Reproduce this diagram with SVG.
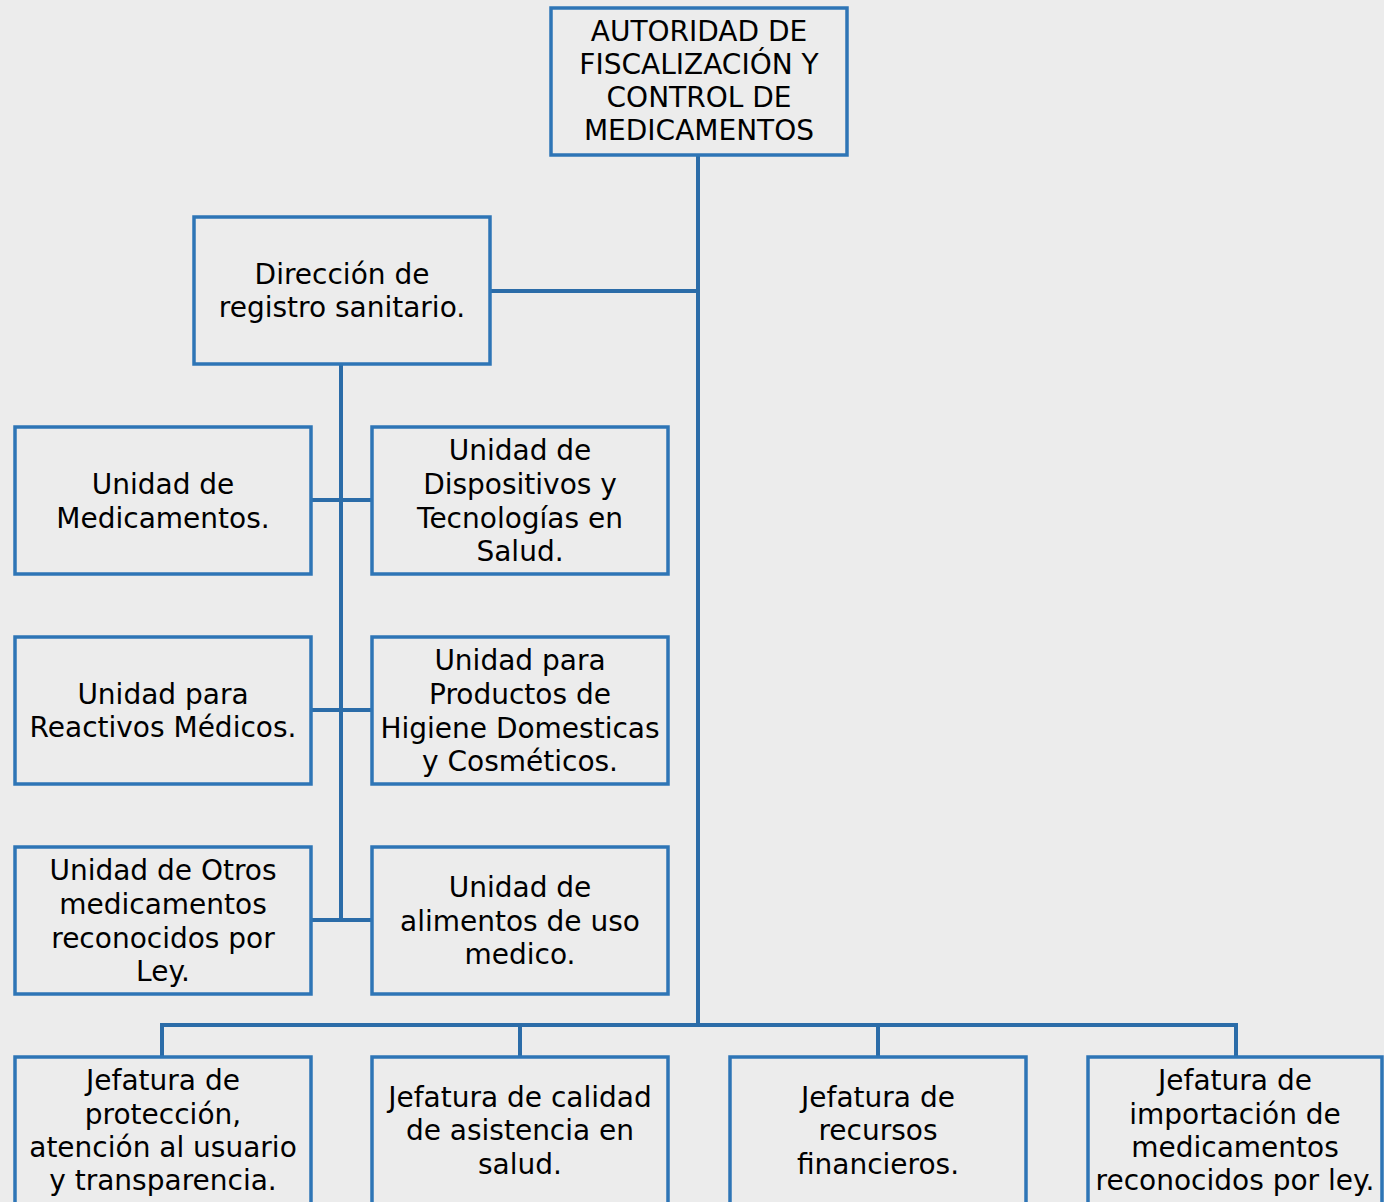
<svg xmlns="http://www.w3.org/2000/svg" width="1384" height="1202" viewBox="0 0 1384 1202">
<style>
.box{fill:#ececec;stroke:#2e75b6;stroke-width:3.5}
.t{font-family:"DejaVu Sans",sans-serif;font-size:28px;fill:#000;text-anchor:middle}
.c{fill:none;stroke:#2b6ca8;stroke-width:4}
</style>
<rect width="1384" height="1202" fill="#ececec"/>
<g id="connectors">
<path class="c" d="M698 155V1025"/>
<path class="c" d="M490 291H698"/>
<path class="c" d="M341 364V920"/>
<path class="c" d="M311 500H372M311 710H372M311 920H372"/>
<path class="c" d="M162 1057V1025H1236V1057M520 1025V1057M878 1025V1057"/>
</g>
<g id="n_autoridad"><rect class="box" x="551" y="8" width="296" height="147"/>
<text class="t" x="699"><tspan x="699" y="41">AUTORIDAD DE</tspan><tspan x="699" y="74">FISCALIZACIÓN Y</tspan><tspan x="699" y="107">CONTROL DE</tspan><tspan x="699" y="140">MEDICAMENTOS</tspan></text></g>
<g id="n_direccion"><rect class="box" x="194" y="217" width="296" height="147"/>
<text class="t"><tspan x="342" y="284">Dirección de</tspan><tspan x="342" y="317">registro sanitario.</tspan></text></g>
<g id="n_medicamentos"><rect class="box" x="15" y="427" width="296" height="147"/>
<text class="t"><tspan x="163" y="494">Unidad de</tspan><tspan x="163" y="528">Medicamentos.</tspan></text></g>
<g id="n_dispositivos"><rect class="box" x="372" y="427" width="296" height="147"/>
<text class="t"><tspan x="520" y="460">Unidad de</tspan><tspan x="520" y="494">Dispositivos y</tspan><tspan x="520" y="528">Tecnologías en</tspan><tspan x="520" y="561">Salud.</tspan></text></g>
<g id="n_reactivos"><rect class="box" x="15" y="637" width="296" height="147"/>
<text class="t"><tspan x="163" y="704">Unidad para</tspan><tspan x="163" y="737">Reactivos Médicos.</tspan></text></g>
<g id="n_higiene"><rect class="box" x="372" y="637" width="296" height="147"/>
<text class="t"><tspan x="520" y="670">Unidad para</tspan><tspan x="520" y="704">Productos de</tspan><tspan x="520" y="738">Higiene Domesticas</tspan><tspan x="520" y="771">y Cosméticos.</tspan></text></g>
<g id="n_otros"><rect class="box" x="15" y="847" width="296" height="147"/>
<text class="t"><tspan x="163" y="880">Unidad de Otros</tspan><tspan x="163" y="914">medicamentos</tspan><tspan x="163" y="948">reconocidos por</tspan><tspan x="163" y="981">Ley.</tspan></text></g>
<g id="n_alimentos"><rect class="box" x="372" y="847" width="296" height="147"/>
<text class="t"><tspan x="520" y="897">Unidad de</tspan><tspan x="520" y="931">alimentos de uso</tspan><tspan x="520" y="964">medico.</tspan></text></g>
<g id="n_proteccion"><rect class="box" x="15" y="1057" width="296" height="160"/>
<text class="t"><tspan x="163" y="1090">Jefatura de</tspan><tspan x="163" y="1124">protección,</tspan><tspan x="163" y="1157">atención al usuario</tspan><tspan x="163" y="1190">y transparencia.</tspan></text></g>
<g id="n_calidad"><rect class="box" x="372" y="1057" width="296" height="160"/>
<text class="t"><tspan x="520" y="1107">Jefatura de calidad</tspan><tspan x="520" y="1140">de asistencia en</tspan><tspan x="520" y="1174">salud.</tspan></text></g>
<g id="n_recursos"><rect class="box" x="730" y="1057" width="296" height="160"/>
<text class="t"><tspan x="878" y="1107">Jefatura de</tspan><tspan x="878" y="1140">recursos</tspan><tspan x="878" y="1174">financieros.</tspan></text></g>
<g id="n_importacion"><rect class="box" x="1088" y="1057" width="294" height="160"/>
<text class="t"><tspan x="1235" y="1090">Jefatura de</tspan><tspan x="1235" y="1124">importación de</tspan><tspan x="1235" y="1157">medicamentos</tspan><tspan x="1235" y="1190">reconocidos por ley.</tspan></text></g>
</svg>
